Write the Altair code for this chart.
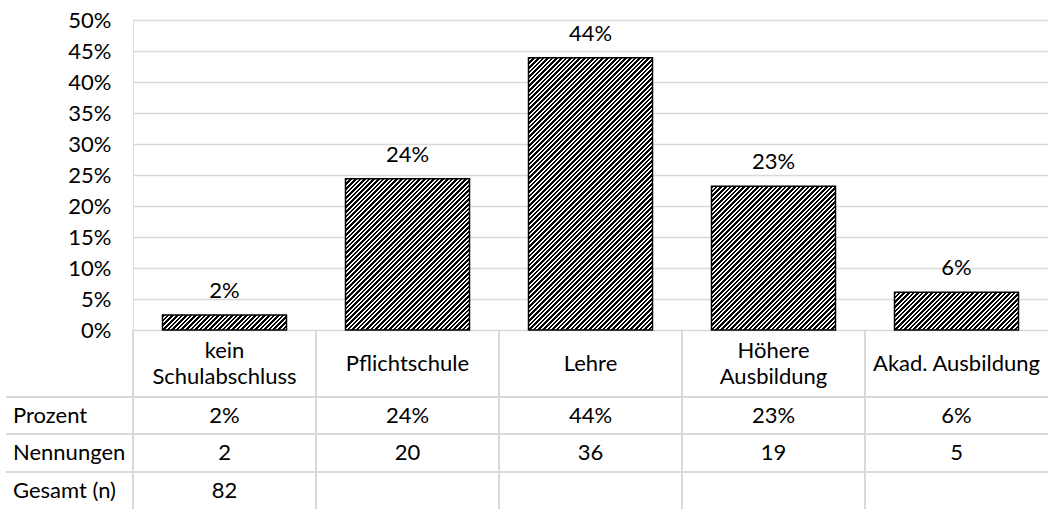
import altair as alt
import pandas as pd

# Survey: highest completed education
categories = ["kein Schulabschluss", "Pflichtschule", "Lehre", "Höhere Ausbildung", "Akad. Ausbildung"]
header_labels = ["kein\nSchulabschluss", "Pflichtschule", "Lehre", "Höhere\nAusbildung", "Akad. Ausbildung"]
percent = [0.024, 0.244, 0.439, 0.232, 0.061]
counts = [2, 20, 36, 19, 5]
total_n = [82]
row_labels = ["Prozent", "Nennungen", "Gesamt (n)"]
y_ticks = [0.0, 0.05, 0.10, 0.15, 0.20, 0.25, 0.30, 0.35, 0.40, 0.45, 0.50]

# Layout (pixels)
PLOT_W, PLOT_H = 915, 310
PAD_LEFT, PAD_TOP, PAD_BOTTOM = 133, 20, 179
BAR_W = 124
FONT = "Lato"
FS = 22
GRID = "#d9d9d9"
LINE_H = 26
HEADER_Y = 343.5
ROW_Y = [395.5, 433, 470.5]
ROW_LINES = [377, 414, 452]
TABLE_TOP, TABLE_BOTTOM = 310, 489
Y_MAX = 0.5

df = pd.DataFrame({"cat": categories, "header": header_labels,
                   "pct": percent, "count": counts})

x_scale = alt.Scale(domain=categories, paddingInner=0, paddingOuter=0)
x_enc = alt.X("cat:N", sort=categories, scale=x_scale, axis=None)
y_enc = alt.Y("pct:Q",
              scale=alt.Scale(domain=[0, Y_MAX]),
              axis=alt.Axis(values=y_ticks, format=".0%", grid=True, gridColor=GRID,
                            gridWidth=1.5, domain=False, ticks=False, labelPadding=22,
                            labelOverlap=False, labelFont=FONT, labelFontSize=FS,
                            labelColor="black", title=None))


def hatch(w, h, black=2.6, white=2.0):
    """Diagonal black/white stripes at 45 degrees for a w x h rectangle."""
    total = w + h
    k = total / (w * w + h * h)
    stops = [alt.GradientStop(offset=0, color="black")]
    pos, j = 0.0, 0
    while pos < total:
        pos += black if j % 2 == 0 else white
        off = min(pos / total, 1.0)
        a, b = ("black", "white") if j % 2 == 0 else ("white", "black")
        stops.append(alt.GradientStop(offset=off, color=a))
        stops.append(alt.GradientStop(offset=off, color=b))
        j += 1
    return alt.LinearGradient(gradient="linear", x1=0, y1=0, x2=w * k, y2=h * k,
                              stops=stops)


base = alt.Chart(df)

layers = []
for cat, p in zip(categories, percent):
    bar_h = max(p / Y_MAX * PLOT_H, 1)
    layers.append(
        base.transform_filter(alt.datum.cat == cat)
        .mark_bar(size=BAR_W, fill=hatch(BAR_W, bar_h), stroke="black", strokeWidth=1.5)
        .encode(x=x_enc, y=y_enc)
    )

bar_labels = base.mark_text(dy=-24, baseline="middle", font=FONT, fontSize=FS,
                            color="black").encode(
    x=x_enc, y=y_enc, text=alt.Text("pct:Q", format=".0%"))

# Data table below the plot
col_lines = base.mark_rule(color=GRID, strokeWidth=2).encode(
    x=alt.X("cat:N", sort=categories, bandPosition=0, scale=x_scale, axis=None),
    y=alt.value(TABLE_TOP), y2=alt.value(TABLE_BOTTOM))

one = pd.DataFrame({"k": [0]})
row_rules = [
    alt.Chart(one).mark_rule(color=GRID, strokeWidth=2).encode(
        x=alt.value(-127), x2=alt.value(PLOT_W), y=alt.value(yy))
    for yy in ROW_LINES
]

# multi-line headers are shifted up so the block stays centred in its cell
header_text = base.transform_calculate(
    shift=f"-{LINE_H / 2} * (length(split(datum.header, '\\n')) - 1)"
).mark_text(lineBreak="\n", lineHeight=LINE_H, baseline="middle",
            font=FONT, fontSize=FS, color="black").encode(
    x=x_enc, y=alt.value(HEADER_Y),
    yOffset=alt.YOffset("shift:Q", scale=None),
    text="header:N")

pct_text = base.mark_text(baseline="middle", font=FONT, fontSize=FS, color="black").encode(
    x=x_enc, y=alt.value(ROW_Y[0]), text=alt.Text("pct:Q", format=".0%"))

count_text = base.mark_text(baseline="middle", font=FONT, fontSize=FS, color="black").encode(
    x=x_enc, y=alt.value(ROW_Y[1]), text="count:Q")

total_df = pd.DataFrame({"cat": categories[:1], "n": total_n})
total_text = alt.Chart(total_df).mark_text(baseline="middle", font=FONT, fontSize=FS,
                                           color="black").encode(
    x=x_enc, y=alt.value(ROW_Y[2]), text="n:Q")

row_label_layers = [
    alt.Chart(pd.DataFrame({"label": [lab]})).mark_text(
        align="left", baseline="middle", font=FONT, fontSize=FS, color="black").encode(
        x=alt.value(-120), y=alt.value(yy), text="label:N")
    for lab, yy in zip(row_labels, ROW_Y)
]

chart = alt.layer(
    *layers, bar_labels, col_lines, *row_rules, header_text, pct_text, count_text,
    total_text, *row_label_layers
).properties(
    width=PLOT_W, height=PLOT_H,
    autosize=alt.AutoSizeParams(type="none"),
    padding={"left": PAD_LEFT, "top": PAD_TOP, "right": 0, "bottom": PAD_BOTTOM},
).configure_view(strokeWidth=0).configure(background="white")

chart.save("out.html", embed_options={"renderer": "svg", "actions": False})
